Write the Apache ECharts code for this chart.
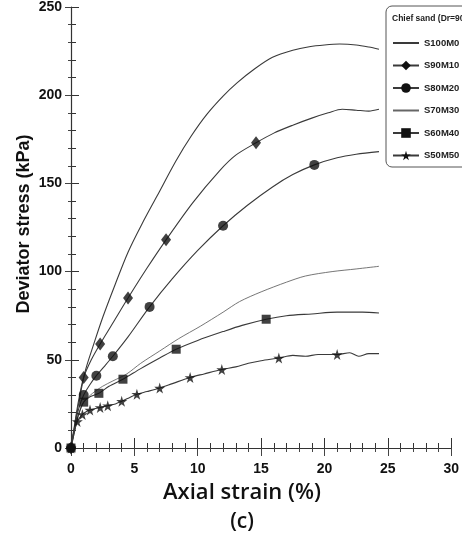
<!DOCTYPE html>
<html><head><meta charset="utf-8">
<script src="https://cdn.jsdelivr.net/npm/echarts@6/dist/echarts.min.js"></script>
<style>html,body{margin:0;padding:0;background:#fff}#c{width:462px;height:539px}</style>
</head><body><div id="c"></div>
<script>
const xTicks = [0, 5, 10, 15, 20, 25, 30];
const yTicks = [0, 50, 100, 150, 200, 250];
const seriesNames = ['S100M0', 'S90M10', 'S80M20', 'S70M30', 'S60M40', 'S50M50'];

// curve traces [strain %, stress kPa]
const curveS100M0 = [[0,0],[0.3,13],[0.6,25],[1.1,43],[1.8,59],[2.5,74],[3.5,93],[4.5,111],[5.6,127],[6.8,143],[8.3,163],[9.5,177],[10.7,189],[12,199.5],[13.1,207],[14.5,215],[15.9,221.5],[17.5,225.5],[18.8,227.5],[20,228.5],[21.2,229],[22.5,228.5],[23.5,227.3],[24.3,226]];
const curveS90M10 = [[0,0],[0.3,14],[0.6,27],[1.0,40],[1.6,50],[2.3,59],[3.4,72],[4.5,85],[6,102],[7.5,118],[9.6,139],[11.7,157],[13,166],[14.6,173],[16,178.5],[17.5,183],[19,187],[20.3,190],[21.4,192],[22.5,191.5],[23.5,191],[24.3,192]];
const curveS80M20 = [[0,0],[0.3,12],[0.6,22],[1,30],[1.5,36],[2,41],[2.6,46],[3.3,52],[4.5,63],[6.2,80],[8,96],[10,112],[12,126],[13.9,137.5],[15.9,148],[17.5,155],[19.2,160.5],[21,164.5],[22.5,166.5],[24.3,168]];
const curveS70M30 = [[0,0],[0.3,10],[0.6,19],[1,26],[1.7,31],[2.5,35],[3.3,38],[4.4,42],[5.5,48],[7,55],[8.5,62],[10.2,69],[12,77],[13.3,83],[15,88.5],[17,94],[18.5,97.5],[20.6,100],[22.5,101.5],[24.3,103]];
const curveS60M40 = [[0,0],[0.3,10],[0.6,19],[1,26],[1.5,29],[2.2,31],[3,35],[4.1,39],[5.5,45],[7,51],[8.3,56],[10,61],[12,66],[13.5,69.5],[15.4,73],[17,75],[19,76],[21,77],[23,77],[24.3,76.5]];
const curveS50M50 = [[0,0],[0.2,8],[0.5,15],[0.9,19],[1.3,21],[1.7,22],[2.3,23],[2.9,24],[3.5,25],[4,26.5],[4.6,28.5],[5.2,30.5],[6,32],[7,34],[8,36.5],[9.4,40],[10.5,42],[11.9,44.5],[13,46],[14,48],[15,49.5],[16.4,51],[17.5,52.5],[18.5,52],[19.5,53],[21,53],[22,54],[22.7,52],[23.5,53.5],[24.3,53.5]];

// marker positions
const markS90M10 = [[0,0],[1.0,40],[2.3,59],[4.5,85],[7.5,118],[14.6,173]];
const markS80M20 = [[0,0],[1.0,30],[2.0,41],[3.3,52],[6.2,80],[12,126],[19.2,160.5]];
const markS60M40 = [[0,0],[1.0,26],[2.2,31],[4.1,39],[8.3,56],[15.4,73]];
const markS50M50 = [[0,0],[0.5,15],[0.9,19],[1.5,21.5],[2.3,23],[2.9,24],[4.0,26.5],[5.2,30.5],[7.0,34],[9.4,40],[11.9,44.5],[16.4,51],[21.0,53]];

const star = 'path://M50,0 L61,35 L98,35 L68,57 L79,91 L50,70 L21,91 L32,57 L2,35 L39,35 Z';
const curves = [curveS100M0, curveS90M10, curveS80M20, curveS70M30, curveS60M40, curveS50M50];
const marks = [null, markS90M10, markS80M20, null, markS60M40, markS50M50];
const symbols = ['none', 'diamond', 'circle', 'none', 'rect', star];
const symSizes = [0, [10, 13], 10, 0, 9, 11];
const lineColors = ['#3a3a3a', '#3a3a3a', '#3a3a3a', '#666', '#3a3a3a', '#3a3a3a'];
const lineWidths = [1.1, 1.1, 1.1, 0.9, 1.1, 1.1];

const series = [];
curves.forEach((c, i) => {
  series.push({
    name: seriesNames[i], type: 'line', data: c, smooth: 0.3,
    showSymbol: false, symbol: symbols[i], symbolSize: symSizes[i],
    lineStyle: { color: lineColors[i], width: lineWidths[i] },
    itemStyle: { color: '#111' }, silent: true, z: 2
  });
});
marks.forEach((m, i) => {
  if (!m) return;
  series.push({
    name: seriesNames[i] + ' markers', type: 'scatter', data: m,
    symbol: symbols[i], symbolSize: symSizes[i], itemStyle: { color: '#111' }, z: 3, silent: true
  });
});

const bold = '"Liberation Sans", Arial, sans-serif';
const tickSet = new Set(xTicks);
const ytickSet = new Set(yTicks);
const axisLine = { show: true, lineStyle: { color: '#333', width: 1.2 } };

const legendData = seriesNames.map((n, i) => symbols[i] === 'none'
  ? { name: n, itemStyle: { color: 'rgba(0,0,0,0)', borderWidth: 0, opacity: 0 } }
  : { name: n });

const option = {
  animation: false,
  backgroundColor: '#fff',
  grid: { left: 71, right: 10, top: 5, bottom: 91 },
  xAxis: [{
    type: 'value', min: 0, max: 30, interval: 5, position: 'bottom',
    axisLine: axisLine,
    axisTick: { show: true, inside: true, length: 10, lineStyle: { color: '#333' } },
    minorTick: { show: true, splitNumber: 5, length: 5, lineStyle: { color: '#333' } },
    splitLine: { show: false },
    axisLabel: { margin: 14, fontFamily: bold, fontWeight: 'bold', fontSize: 14, color: '#111',
      formatter: v => tickSet.has(v) ? String(v) : '' }
  }, {
    type: 'value', min: 0, max: 30, interval: 5, position: 'top',
    axisLine: axisLine,
    axisTick: { show: true, inside: true, length: 8, lineStyle: { color: '#444' } },
    minorTick: { show: true, splitNumber: 5, length: 4, lineStyle: { color: '#444' } },
    splitLine: { show: false }, axisLabel: { show: false }
  }],
  yAxis: [{
    type: 'value', min: 0, max: 250, interval: 50, position: 'left',
    axisLine: axisLine,
    axisTick: { show: true, inside: true, length: 8, lineStyle: { color: '#333' } },
    minorTick: { show: true, splitNumber: 5, length: 5, lineStyle: { color: '#333' } },
    splitLine: { show: false },
    axisLabel: { margin: 9, fontFamily: bold, fontWeight: 'bold', fontSize: 14, color: '#111',
      formatter: v => ytickSet.has(v) ? String(v) : '' }
  }, {
    type: 'value', min: 0, max: 250, interval: 50, position: 'right',
    axisLine: { show: false },
    axisTick: { show: true, inside: true, length: 6, lineStyle: { color: '#444' } },
    minorTick: { show: true, splitNumber: 5, length: 3, lineStyle: { color: '#444' } },
    splitLine: { show: false }, axisLabel: { show: false }
  }],
  legend: {
    data: legendData, orient: 'vertical', left: 392, top: 37, padding: 0,
    itemWidth: 26, itemHeight: 12, itemGap: 10.5, z: 10,
    textStyle: { fontFamily: bold, fontWeight: 'bold', fontSize: 9.5, color: '#222', lineHeight: 12 }
  },
  graphic: [
    { type: 'rect', shape: { x: 386, y: 6, width: 90, height: 161, r: 6 }, style: { fill: '#fff', stroke: '#555', lineWidth: 1 }, z: 5 },
    { type: 'text', x: 392, y: 14, style: { text: 'Chief sand (Dr=90%)', fontFamily: bold, fontWeight: 'bold', fontSize: 8.5, fill: '#222' }, z: 6 },
    { type: 'text', x: 24, y: 224, rotation: Math.PI / 2, style: { text: 'Deviator stress (kPa)', fontFamily: bold, fontWeight: 'bold', fontSize: 18, fill: '#111', align: 'center', verticalAlign: 'middle' } },
    { type: 'text', x: 242, y: 493, style: { text: 'Axial strain (%)', fontFamily: '"Open Sans", sans-serif', fontWeight: 600, fontSize: 22, fill: '#111', align: 'center', verticalAlign: 'middle' } },
    { type: 'text', x: 242, y: 522, style: { text: '(c)', fontFamily: '"Open Sans", sans-serif', fontWeight: 600, fontSize: 21, fill: '#111', align: 'center', verticalAlign: 'middle' } }
  ],
  series: series
};
const chart = echarts.init(document.getElementById('c'));
chart.setOption(option);
</script></body></html>
